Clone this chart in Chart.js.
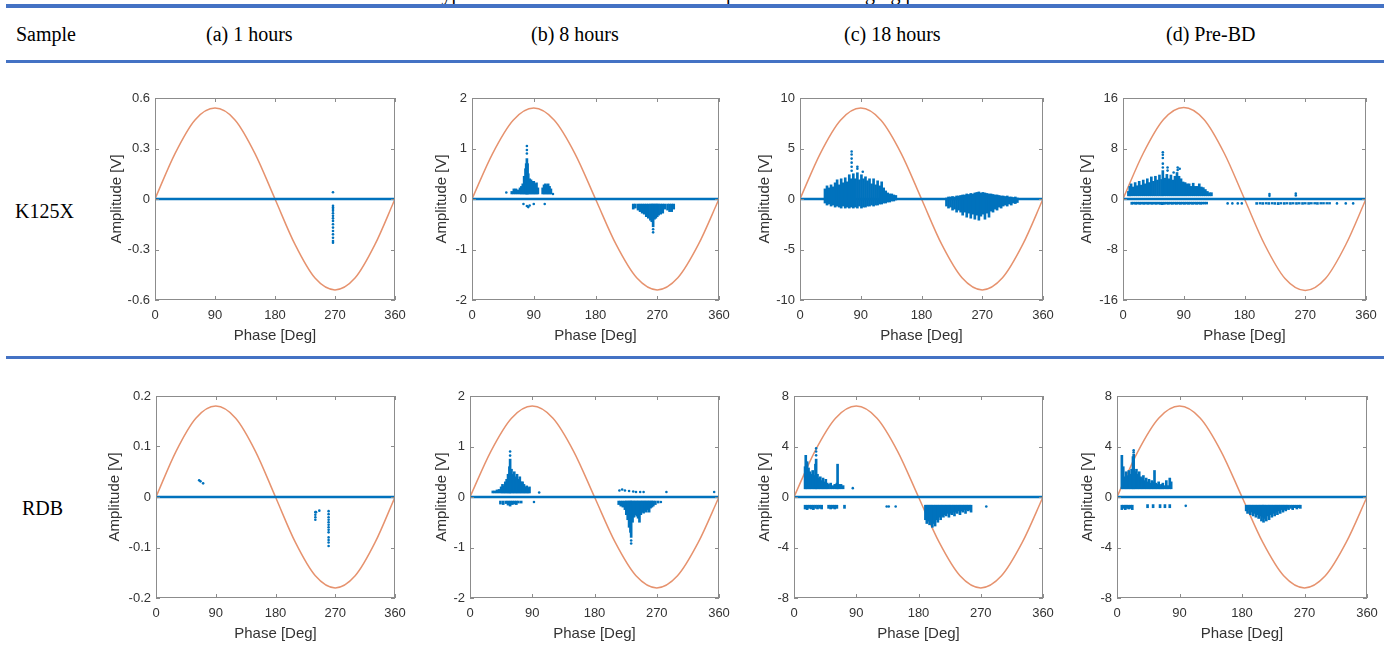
<!DOCTYPE html>
<html>
<head>
<meta charset="utf-8">
<script src="https://cdn.jsdelivr.net/npm/chart.js@4.4.1/dist/chart.umd.min.js"></script>
<style>
  body { margin: 0; width: 1394px; height: 650px; overflow: hidden; background: #fff; position: relative;
         font-family: "Liberation Serif", "Times New Roman", serif; }
  .txt { position: absolute; font-size: 20px; line-height: 20px; white-space: nowrap; color: #000; }
  .rule { position: absolute; left: 6px; width: 1378px; background: #4472C4; }
  canvas { position: absolute; }
</style>
</head>
<body>
<script>
// ---- table text ----
const captionText = 'Table 3. Typical PRPD results of the two samples at different aging phases';
const sampleNames = ['K125X', 'RDB'];
const columnTitles = ['(a) 1 hours', '(b) 8 hours', '(c) 18 hours', '(d) Pre-BD'];

// ---- shared axis values ----
const phaseTicks = [0, 90, 180, 270, 360];
const sinePhase = [0, 30, 60, 90, 120, 150, 180, 210, 240, 270, 300, 330, 360];
const baselinePhase = [0, 360];

// stems are [phase, low, high], dots are [phase, amplitude]

// K125X (a) 1 hours
const k1Ticks = [-0.6, -0.3, 0, 0.3, 0.6];
const k1Sine = [0, 0.27, 0.47, 0.54, 0.47, 0.27, 0, -0.27, -0.47, -0.54, -0.47, -0.27, 0];
const k1Stems = [];
const k1Dots = [[267, 0.04], [267, -0.04], [267, -0.05], [267, -0.06], [267, -0.07], [267, -0.085], [267, -0.1],
  [267, -0.115], [267, -0.13], [267, -0.15], [267, -0.17], [267, -0.19], [267, -0.21], [267, -0.23], [267, -0.25], [267, -0.26]];

// K125X (b) 8 hours
const k2Ticks = [-2, -1, 0, 1, 2];
const k2Sine = [0, 0.9, 1.56, 1.8, 1.56, 0.9, 0, -0.9, -1.56, -1.8, -1.56, -0.9, 0];
const k2Stems = [[58, 0.1, 0.15], [61, 0.1, 0.2], [64, 0.1, 0.2], [67, 0.1, 0.18], [70, 0.1, 0.22], [72, 0.1, 0.25],
  [74, 0.1, 0.3], [76, 0.1, 0.45], [78, 0.1, 0.6], [79, 0.1, 0.7], [80, 0.1, 0.8], [81, 0.1, 0.7], [82, 0.1, 0.5],
  [84, 0.1, 0.4], [86, 0.1, 0.38], [88, 0.1, 0.35], [90, 0.1, 0.35], [92, 0.1, 0.3], [94, 0.1, 0.32], [96, 0.1, 0.22],
  [103, 0.1, 0.22], [105, 0.1, 0.28], [107, 0.1, 0.3], [109, 0.1, 0.28], [111, 0.1, 0.3], [113, 0.1, 0.25], [115, 0.1, 0.2],
  [235, -0.2, -0.1], [238, -0.18, -0.1], [242, -0.22, -0.1], [245, -0.25, -0.1], [248, -0.28, -0.1], [251, -0.3, -0.1],
  [254, -0.35, -0.1], [257, -0.38, -0.1], [260, -0.42, -0.1], [262, -0.45, -0.1], [264, -0.55, -0.1], [266, -0.4, -0.1],
  [268, -0.38, -0.1], [270, -0.35, -0.1], [272, -0.32, -0.1], [275, -0.3, -0.1], [278, -0.28, -0.1], [281, -0.2, -0.1],
  [285, -0.22, -0.1], [288, -0.25, -0.1], [291, -0.25, -0.1], [294, -0.2, -0.1]];
const k2Dots = [[50, 0.13], [118, 0.1], [80, 0.9], [80, 0.97], [80, 1.05], [264, -0.6], [264, -0.66],
  [75, -0.1], [80, -0.14], [82, -0.16], [84, -0.13], [90, -0.1], [106, -0.1]];

// K125X (c) 18 hours
const k3Ticks = [-10, -5, 0, 5, 10];
const k3Sine = [0, 4.5, 7.8, 9, 7.8, 4.5, 0, -4.5, -7.8, -9, -7.8, -4.5, 0];
const k3Stems = [[37, -0.4, 1.0], [40, -0.6, 1.3], [43, -0.5, 1.1], [46, -0.7, 1.4], [49, -0.6, 1.2], [52, -0.8, 1.6],
  [55, -0.7, 1.9], [58, -0.8, 1.4], [61, -0.9, 2.0], [64, -0.7, 1.6], [67, -0.9, 2.1], [70, -0.8, 1.7], [73, -0.9, 2.4],
  [76, -0.8, 2.0], [79, -0.9, 2.5], [82, -0.8, 2.0], [85, -0.9, 2.6], [88, -0.7, 1.9], [91, -0.9, 2.4], [94, -0.8, 2.0],
  [97, -0.8, 2.2], [100, -0.7, 1.8], [103, -0.7, 2.0], [106, -0.6, 1.5], [109, -0.7, 2.0], [112, -0.6, 1.4],
  [115, -0.6, 1.8], [118, -0.5, 1.3], [121, -0.5, 1.7], [124, -0.4, 1.1], [127, -0.4, 0.8], [130, -0.3, 0.6],
  [133, -0.3, 0.5], [136, -0.2, 0.5], [139, -0.2, 0.4], [142, -0.1, 0.35],
  [217, -0.7, 0.1], [220, -0.9, 0.2], [223, -0.8, 0.2], [226, -1.1, 0.25], [229, -1.0, 0.2], [232, -1.3, 0.3],
  [235, -1.1, 0.3], [238, -1.3, 0.35], [241, -1.6, 0.4], [244, -1.3, 0.4], [247, -1.8, 0.5], [250, -1.4, 0.45],
  [253, -1.9, 0.55], [256, -1.5, 0.5], [259, -2.0, 0.6], [262, -1.6, 0.65], [265, -2.1, 0.7], [268, -1.7, 0.6],
  [271, -1.5, 0.65], [274, -2.0, 0.6], [277, -1.4, 0.55], [280, -1.8, 0.5], [283, -1.2, 0.5], [286, -1.3, 0.45],
  [289, -1.0, 0.4], [292, -1.1, 0.4], [295, -0.8, 0.35], [298, -0.9, 0.3], [301, -0.7, 0.3], [304, -0.6, 0.25],
  [307, -0.7, 0.3], [310, -0.5, 0.2], [313, -0.6, 0.2], [316, -0.4, 0.15], [319, -0.45, 0.2], [322, -0.35, 0.1]];
const k3Dots = [[76.5, 2.8], [76.5, 3.2], [76.5, 3.6], [76.5, 4.0], [76.5, 4.4], [76.5, 4.7],
  [85, 3.0], [85, 3.2], [93, 2.7]];

// K125X (d) Pre-BD
const k4Ticks = [-16, -8, 0, 8, 16];
const k4Sine = [0, 7.25, 12.6, 14.5, 12.6, 7.25, 0, -7.25, -12.6, -14.5, -12.6, -7.25, 0];
const k4Stems = [[8, 0.5, 1.2], [10, 0.5, 2.0], [12, 0.5, 2.4], [15, 0.5, 1.9], [18, 0.5, 2.6], [21, 0.5, 2.1],
  [24, 0.5, 2.8], [27, 0.5, 2.2], [30, 0.5, 3.0], [33, 0.5, 2.4], [36, 0.5, 3.2], [39, 0.5, 2.6], [42, 0.5, 3.5],
  [45, 0.5, 2.8], [48, 0.5, 3.6], [51, 0.5, 3.0], [54, 0.5, 3.8], [57, 0.5, 3.1], [59, 0.5, 4.5], [62, 0.5, 3.3],
  [65, 0.5, 3.9], [68, 0.5, 3.2], [71, 0.5, 3.8], [74, 0.5, 3.0], [77, 0.5, 3.6], [80, 0.5, 4.2], [83, 0.5, 3.6],
  [86, 0.5, 3.2], [89, 0.5, 2.7], [92, 0.5, 2.6], [95, 0.5, 2.4], [98, 0.5, 2.4], [101, 0.5, 2.0], [104, 0.5, 2.5],
  [107, 0.5, 2.0], [110, 0.5, 2.0], [113, 0.5, 2.4], [116, 0.5, 1.9], [119, 0.5, 1.8], [122, 0.5, 1.5],
  [125, 0.5, 1.2], [128, 0.5, 1.0], [131, 0.5, 1.0],
  [13, -0.85, -0.5], [16, -0.8, -0.5], [19, -0.85, -0.5], [22, -0.8, -0.5], [25, -0.85, -0.5], [28, -0.8, -0.5],
  [31, -0.85, -0.5], [34, -0.8, -0.5], [37, -0.85, -0.5], [40, -0.8, -0.5], [43, -0.85, -0.5], [46, -0.8, -0.5],
  [49, -0.85, -0.5], [52, -0.8, -0.5], [55, -0.85, -0.5], [58, -0.9, -0.5], [61, -0.85, -0.5], [64, -0.8, -0.5],
  [67, -0.85, -0.5], [70, -0.8, -0.5], [73, -0.85, -0.5], [76, -0.8, -0.5], [79, -0.85, -0.5], [82, -0.8, -0.5],
  [85, -0.85, -0.5], [88, -0.8, -0.5], [91, -0.85, -0.5], [94, -0.8, -0.5], [97, -0.85, -0.5], [100, -0.8, -0.5],
  [103, -0.85, -0.5], [106, -0.8, -0.5], [109, -0.85, -0.5], [112, -0.8, -0.5], [115, -0.85, -0.5],
  [118, -0.8, -0.5], [121, -0.8, -0.5], [124, -0.8, -0.5],
  [198, -0.85, -0.55], [203, -0.8, -0.55], [207, -0.85, -0.55], [212, -0.8, -0.55], [216, -0.85, -0.55],
  [221, -0.8, -0.55], [225, -0.85, -0.55], [230, -0.9, -0.55], [234, -0.8, -0.55], [239, -0.85, -0.55],
  [243, -0.8, -0.55], [248, -0.85, -0.55], [252, -0.8, -0.55], [257, -0.85, -0.55], [261, -0.8, -0.55],
  [266, -0.85, -0.55], [270, -0.8, -0.55], [275, -0.85, -0.55], [279, -0.8, -0.55], [284, -0.8, -0.55],
  [288, -0.85, -0.55], [293, -0.8, -0.55], [297, -0.8, -0.55], [302, -0.8, -0.55], [306, -0.8, -0.55]];
const k4Dots = [[59, 5.0], [59, 5.6], [59, 6.5], [59, 7.0], [59, 7.4], [66, 4.5], [66, 5.0], [81, 4.6], [81, 5.0],
  [84, 4.8], [75, 4.2], [155, -0.7], [162, -0.7], [170, -0.7], [176, -0.7], [317, -0.7], [330, -0.7], [341, -0.7],
  [217, 0.5], [217, 0.8], [256, 0.55], [256, 0.85]];

// RDB (a) 1 hours
const r1Ticks = [-0.2, -0.1, 0, 0.1, 0.2];
const r1Sine = [0, 0.09, 0.156, 0.18, 0.156, 0.09, 0, -0.09, -0.156, -0.18, -0.156, -0.09, 0];
const r1Stems = [];
const r1Dots = [[65, 0.033], [67, 0.031], [71, 0.027], [240, -0.03], [240, -0.035], [240, -0.04], [240, -0.045],
  [241, -0.03], [246, -0.027], [260, -0.028], [260, -0.034], [260, -0.04], [260, -0.045], [260, -0.05], [260, -0.055],
  [260, -0.06], [260, -0.065], [260, -0.07], [260, -0.08], [260, -0.085], [260, -0.09], [260, -0.097]];

// RDB (b) 8 hours
const r2Ticks = [-2, -1, 0, 1, 2];
const r2Sine = [0, 0.9, 1.56, 1.8, 1.56, 0.9, 0, -0.9, -1.56, -1.8, -1.56, -0.9, 0];
const r2Stems = [[33, 0.08, 0.12], [36, 0.08, 0.12], [39, 0.08, 0.14], [42, 0.08, 0.15], [45, 0.08, 0.2],
  [47, 0.08, 0.25], [49, 0.08, 0.22], [51, 0.08, 0.3], [53, 0.08, 0.35], [55, 0.08, 0.45], [57, 0.08, 0.6],
  [58, 0.08, 0.75], [60, 0.08, 0.55], [62, 0.08, 0.45], [64, 0.08, 0.5], [66, 0.08, 0.4], [68, 0.08, 0.45],
  [70, 0.08, 0.35], [72, 0.08, 0.4], [74, 0.08, 0.3], [76, 0.08, 0.3], [78, 0.08, 0.25], [80, 0.08, 0.2],
  [82, 0.08, 0.22], [84, 0.08, 0.18], [86, 0.08, 0.2],
  [44, -0.14, -0.08], [48, -0.15, -0.08], [52, -0.13, -0.08], [55, -0.16, -0.08], [58, -0.18, -0.08],
  [61, -0.15, -0.08], [64, -0.14, -0.08], [67, -0.15, -0.08], [70, -0.12, -0.08], [74, -0.12, -0.08],
  [215, -0.15, -0.08], [218, -0.18, -0.08], [221, -0.2, -0.08], [224, -0.25, -0.08], [226, -0.35, -0.08],
  [228, -0.45, -0.08], [230, -0.6, -0.08], [232, -0.7, -0.08], [233, -0.8, -0.08], [235, -0.5, -0.08],
  [237, -0.4, -0.08], [239, -0.35, -0.08], [241, -0.38, -0.08], [243, -0.42, -0.08], [245, -0.5, -0.08],
  [247, -0.35, -0.08], [249, -0.3, -0.08], [251, -0.32, -0.08], [253, -0.28, -0.08], [255, -0.3, -0.08],
  [257, -0.25, -0.08], [259, -0.3, -0.08], [261, -0.22, -0.08], [263, -0.2, -0.08], [265, -0.18, -0.08],
  [268, -0.15, -0.08], [272, -0.12, -0.08]];
const r2Dots = [[58, 0.82], [58, 0.9], [233, -0.86], [233, -0.92], [100, 0.09], [92.5, -0.1],
  [216, 0.13], [220, 0.15], [224, 0.13], [230, 0.12], [236, 0.11], [240, 0.1], [246, 0.1], [251, 0.1],
  [284, 0.1], [353, 0.1], [276, -0.1]];

// RDB (c) 18 hours
const r3Ticks = [-8, -4, 0, 4, 8];
const r3Sine = [0, 3.6, 6.24, 7.2, 6.24, 3.6, 0, -3.6, -6.24, -7.2, -6.24, -3.6, 0];
const r3Stems = [[16, 0.65, 2.4], [17, 0.65, 3.3], [19, 0.65, 2.8], [21, 0.65, 2.3], [23, 0.65, 2.0], [25, 0.65, 1.8],
  [27, 0.65, 2.1], [29, 0.65, 1.7], [31, 0.65, 2.6], [32, 0.65, 3.0], [34, 0.65, 1.8], [36, 0.65, 1.5], [38, 0.65, 1.6],
  [40, 0.65, 1.3], [42, 0.65, 1.5], [44, 0.65, 1.2], [46, 0.65, 1.4], [48, 0.65, 1.1], [50, 0.65, 1.0], [53, 0.65, 1.1],
  [56, 0.65, 0.9], [59, 0.65, 1.0], [62, 0.65, 1.1], [63, 0.65, 2.6], [65, 0.65, 1.0], [68, 0.65, 1.0], [71, 0.65, 0.9],
  [16, -0.95, -0.65], [19, -1.0, -0.65], [22, -0.9, -0.65], [25, -0.95, -0.65], [28, -1.0, -0.65], [31, -0.9, -0.65],
  [34, -0.95, -0.65], [37, -0.9, -0.65], [40, -0.95, -0.65], [50, -0.9, -0.65], [53, -0.95, -0.65],
  [56, -0.9, -0.65], [59, -0.95, -0.65], [62, -0.9, -0.65], [73, -0.9, -0.65],
  [190, -1.8, -0.65], [192, -2.1, -0.65], [194, -1.9, -0.65], [196, -2.2, -0.65], [198, -2.0, -0.65],
  [200, -2.4, -0.65], [202, -2.1, -0.65], [204, -2.3, -0.65], [206, -1.8, -0.65], [208, -2.0, -0.65],
  [210, -1.6, -0.65], [212, -1.8, -0.65], [214, -1.5, -0.65], [216, -1.6, -0.65], [218, -1.4, -0.65],
  [220, -1.5, -0.65], [222, -1.3, -0.65], [224, -1.6, -0.65], [226, -1.3, -0.65], [228, -1.4, -0.65],
  [230, -1.2, -0.65], [232, -1.5, -0.65], [234, -1.2, -0.65], [236, -1.3, -0.65], [238, -1.1, -0.65],
  [240, -1.4, -0.65], [242, -1.1, -0.65], [244, -1.2, -0.65], [246, -1.0, -0.65], [248, -1.3, -0.65],
  [250, -1.0, -0.65], [252, -1.1, -0.65], [254, -1.0, -0.65], [256, -1.2, -0.65]];
const r3Dots = [[32, 3.3], [32, 3.6], [32, 3.85], [85, 0.7], [134, -0.75], [137, -0.75], [147, -0.75], [278, -0.75]];

// RDB (d) Pre-BD
const r4Ticks = [-8, -4, 0, 4, 8];
const r4Sine = [0, 3.6, 6.24, 7.2, 6.24, 3.6, 0, -3.6, -6.24, -7.2, -6.24, -3.6, 0];
const r4Stems = [[7, 0.65, 3.3], [9, 0.65, 2.4], [11, 0.65, 1.6], [13, 0.65, 2.0], [15, 0.65, 1.7], [17, 0.65, 2.1],
  [19, 0.65, 1.8], [21, 0.65, 2.2], [23, 0.65, 3.2], [24, 0.65, 3.4], [26, 0.65, 2.0], [28, 0.65, 2.2], [30, 0.65, 1.8],
  [32, 0.65, 2.0], [34, 0.65, 1.6], [36, 0.65, 1.5], [38, 0.65, 1.7], [40, 0.65, 1.3], [42, 0.65, 1.5], [44, 0.65, 1.2],
  [46, 0.65, 1.4], [48, 0.65, 1.1], [50, 0.65, 1.3], [52, 0.65, 1.2], [54, 0.65, 2.1], [56, 0.65, 1.1], [58, 0.65, 1.0],
  [60, 0.65, 1.2], [62, 0.65, 0.9], [64, 0.65, 1.0], [66, 0.65, 1.1], [68, 0.65, 0.9], [71, 0.65, 1.3], [73, 0.65, 0.9],
  [76, 0.65, 1.5], [78, 0.65, 1.2],
  [7, -1.0, -0.65], [9, -0.9, -0.65], [12, -1.0, -0.65], [14, -0.9, -0.65], [17, -0.95, -0.65], [20, -0.9, -0.65],
  [22, -1.0, -0.65], [44, -0.85, -0.6], [52, -0.85, -0.6], [62, -0.85, -0.6], [69, -0.85, -0.6], [76, -0.85, -0.6],
  [186, -1.1, -0.65], [188, -1.3, -0.65], [190, -1.0, -0.65], [192, -1.4, -0.65], [194, -1.2, -0.65],
  [196, -1.5, -0.65], [198, -1.3, -0.65], [200, -1.6, -0.65], [202, -1.4, -0.65], [204, -1.7, -0.65],
  [206, -1.5, -0.65], [208, -1.9, -0.65], [210, -1.6, -0.65], [211, -2.0, -0.65], [213, -1.7, -0.65],
  [215, -1.9, -0.65], [217, -1.5, -0.65], [219, -1.8, -0.65], [221, -1.4, -0.65], [223, -1.6, -0.65],
  [225, -1.3, -0.65], [227, -1.5, -0.65], [229, -1.2, -0.65], [231, -1.4, -0.65], [233, -1.1, -0.65],
  [235, -1.3, -0.65], [237, -1.0, -0.65], [239, -1.2, -0.65], [241, -1.0, -0.65], [243, -1.1, -0.65],
  [245, -0.9, -0.65], [247, -1.0, -0.65], [250, -0.9, -0.65], [253, -1.0, -0.65], [256, -0.85, -0.65],
  [259, -0.95, -0.65], [262, -0.85, -0.65], [264, -0.9, -0.65]];
const r4Dots = [[24, 3.55], [24, 3.7], [99, -0.7]];

// ---- layout: chart area [left, top, width, height] and y-axis box width ----
const panels = [
  { ticks: k1Ticks, sine: k1Sine, stems: k1Stems, dots: k1Dots, area: [155, 98, 240, 202], yw: 47 },
  { ticks: k2Ticks, sine: k2Sine, stems: k2Stems, dots: k2Dots, area: [472, 98, 247, 202], yw: 39 },
  { ticks: k3Ticks, sine: k3Sine, stems: k3Stems, dots: k3Dots, area: [800, 98, 243, 202], yw: 44 },
  { ticks: k4Ticks, sine: k4Sine, stems: k4Stems, dots: k4Dots, area: [1123, 98, 243, 202], yw: 45 },
  { ticks: r1Ticks, sine: r1Sine, stems: r1Stems, dots: r1Dots, area: [156, 396, 239, 202], yw: 50 },
  { ticks: r2Ticks, sine: r2Sine, stems: r2Stems, dots: r2Dots, area: [470, 396, 249, 202], yw: 37 },
  { ticks: r3Ticks, sine: r3Sine, stems: r3Stems, dots: r3Dots, area: [794, 396, 249, 202], yw: 38 },
  { ticks: r4Ticks, sine: r4Sine, stems: r4Stems, dots: r4Dots, area: [1117, 396, 250, 202], yw: 38 }
];

const blue = '#0072BD';
const sineColor = '#E6926E';
const axisText = '#333333';
const tickFont = { family: '"Liberation Sans", Arial, sans-serif', size: 13 };
const titleFont = { family: '"Liberation Sans", Arial, sans-serif', size: 15 };
const padTop = 12, padRight = 16, xAxisH = 50;

// table decoration
function addText(text, left, top) {
  const d = document.createElement('div');
  d.className = 'txt';
  d.textContent = text;
  d.style.left = left + 'px';
  d.style.top = top + 'px';
  document.body.appendChild(d);
}
function addRule(top, h) {
  const d = document.createElement('div');
  d.className = 'rule';
  d.style.top = top + 'px';
  d.style.height = h + 'px';
  document.body.appendChild(d);
}
addText(captionText, 362, -17);
addRule(4, 4);
addText('Sample', 16, 24);
[206, 531, 844, 1166].forEach((x, i) => addText(columnTitles[i], x, 24));
addRule(60, 3);
addText(sampleNames[0], 15, 201);
addRule(356, 3);
addText(sampleNames[1], 22, 498);

// box + inward ticks like the original plots
const framePlugin = {
  id: 'frame',
  afterDraw(chart) {
    const { ctx, chartArea: a, scales: { x, y } } = chart;
    ctx.save();
    ctx.strokeStyle = '#8c8c8c';
    ctx.lineWidth = 1;
    ctx.strokeRect(a.left + 0.5, a.top + 0.5, a.width - 1, a.height - 1);
    ctx.beginPath();
    x.ticks.forEach(t => {
      const px = Math.round(x.getPixelForValue(t.value)) + 0.5;
      ctx.moveTo(px, a.bottom); ctx.lineTo(px, a.bottom - 4);
      ctx.moveTo(px, a.top); ctx.lineTo(px, a.top + 4);
    });
    y.ticks.forEach(t => {
      const py = Math.round(y.getPixelForValue(t.value)) + 0.5;
      ctx.moveTo(a.left, py); ctx.lineTo(a.left + 4, py);
      ctx.moveTo(a.right, py); ctx.lineTo(a.right - 4, py);
    });
    ctx.stroke();
    ctx.restore();
  }
};

panels.forEach(p => {
  const [L, T, W, H] = p.area;
  const cv = document.createElement('canvas');
  cv.width = p.yw + W + padRight;
  cv.height = padTop + H + xAxisH;
  cv.style.left = (L - p.yw) + 'px';
  cv.style.top = (T - padTop) + 'px';
  document.body.appendChild(cv);

  const yMax = p.ticks[p.ticks.length - 1];
  new Chart(cv, {
    type: 'bar',
    data: {
      datasets: [
        {
          type: 'line',
          data: sinePhase.map((ph, i) => ({ x: ph, y: p.sine[i] })),
          borderColor: sineColor, borderWidth: 1.5, pointRadius: 0,
          cubicInterpolationMode: 'monotone', order: 4
        },
        {
          type: 'line',
          data: baselinePhase.map(ph => ({ x: ph, y: 0 })),
          borderColor: blue, borderWidth: 2.5, pointRadius: 0, order: 3
        },
        {
          type: 'bar',
          data: p.stems.map(s => ({ x: s[0], y: [s[1], s[2]] })),
          backgroundColor: blue, borderWidth: 0, barThickness: 2, order: 2
        },
        {
          type: 'scatter',
          data: p.dots.map(d => ({ x: d[0], y: d[1] })),
          backgroundColor: blue, borderWidth: 0, pointRadius: 1.3, order: 1
        }
      ]
    },
    options: {
      responsive: false,
      animation: false,
      devicePixelRatio: 1,
      events: [],
      layout: { padding: { top: padTop, right: padRight, left: 0, bottom: 0 } },
      plugins: { legend: { display: false }, tooltip: { enabled: false } },
      scales: {
        x: {
          type: 'linear', min: 0, max: 360, offset: false,
          afterBuildTicks: s => { s.ticks = phaseTicks.map(v => ({ value: v })); },
          afterFit: s => { s.height = xAxisH; s.paddingLeft = 0; s.paddingRight = 0; },
          grid: { display: false, drawTicks: false, offset: false },
          border: { display: false },
          ticks: { padding: 8, font: tickFont, color: axisText, maxRotation: 0, autoSkip: false },
          title: { display: true, text: 'Phase [Deg]', font: titleFont, color: axisText, padding: { top: 0, bottom: 5 } }
        },
        y: {
          type: 'linear', min: -yMax, max: yMax,
          afterBuildTicks: s => { s.ticks = p.ticks.map(v => ({ value: v })); },
          afterFit: s => { s.width = p.yw; s.paddingTop = 0; s.paddingBottom = 0; },
          grid: { display: false, drawTicks: false },
          border: { display: false },
          ticks: { padding: 5, font: tickFont, color: axisText, callback: v => String(v) },
          title: { display: true, text: 'Amplitude [V]', font: titleFont, color: axisText, padding: { top: 0, bottom: 0 } }
        }
      }
    },
    plugins: [framePlugin]
  });
});
</script>
</body>
</html>
